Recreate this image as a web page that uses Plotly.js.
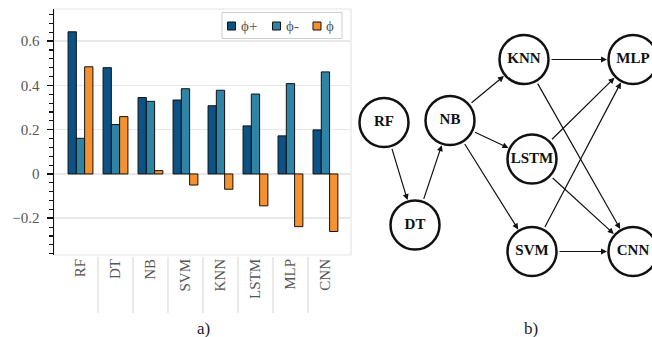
<!DOCTYPE html>
<html><head><meta charset="utf-8">
<script src="https://cdn.plot.ly/plotly-3.0.1.min.js"></script>
<style>html,body{margin:0;padding:0;background:#fff}</style>
</head><body><div id="chart" style="width:652px;height:337px"></div>
<script>
// (a) PROMETHEE flows per classifier
const categories = ['RF','DT','NB','SVM','KNN','LSTM','MLP','CNN'];
const phiPlus  = [0.642,0.480,0.345,0.334,0.308,0.217,0.172,0.199];
const phiMinus = [0.161,0.223,0.328,0.385,0.378,0.361,0.408,0.461];
const phiNet   = [0.484,0.259,0.015,-0.050,-0.069,-0.144,-0.238,-0.260];
const seriesNames = ['ϕ+','ϕ-','ϕ'];
const yTickVals = [-0.2,0,0.2,0.4,0.6];

// (b) ranking graph
const nodeNames = ['RF','DT','NB','KNN','LSTM','SVM','MLP','CNN'];
const nodeX = [384,415,450,524,532,532,633,633];
const nodeY = [122.5,225,120.5,59.5,159,251.5,59.5,251.5];
const edgeFrom = ['RF','DT','NB','NB','NB','KNN','KNN','LSTM','LSTM','SVM','SVM'];
const edgeTo   = ['DT','NB','KNN','LSTM','SVM','MLP','CNN','MLP','CNN','MLP','CNN'];

const colors = ['#0b5286','#2f84a6','#f5912e'];
const serif = '"Liberation Serif", "Times New Roman", serif';
const seriesValues = [phiPlus, phiMinus, phiNet];

const traces = seriesValues.map((vals, i) => ({
  type: 'bar', x: categories, y: vals, name: seriesNames[i],
  marker: {color: colors[i], line: {color: '#111', width: 1}},
  hoverinfo: 'skip', showlegend: false
}));

traces.push({
  type: 'scatter', mode: 'markers+text', xaxis: 'x2', yaxis: 'y2',
  x: nodeX, y: nodeY, text: nodeNames, textposition: 'middle center',
  textfont: {family: serif, size: 15, color: '#111', weight: 'bold'},
  marker: {size: 49, color: '#fff', line: {color: '#111', width: 2.5}},
  showlegend: false, hoverinfo: 'skip', cliponaxis: false
});

const idx = n => nodeNames.indexOf(n);
const annotations = edgeFrom.map((f, k) => ({
  xref: 'x2', yref: 'y2', axref: 'x2', ayref: 'y2',
  x: nodeX[idx(edgeTo[k])], y: nodeY[idx(edgeTo[k])],
  ax: nodeX[idx(f)], ay: nodeY[idx(f)],
  text: '', showarrow: true, arrowhead: 2, arrowsize: 1, arrowwidth: 1.2,
  arrowcolor: '#111', standoff: 26, startstandoff: 26
}));
annotations.push({xref: 'paper', yref: 'paper', x: 203/652, y: 1 - 328/337,
  xanchor: 'center', yanchor: 'middle',
  text: 'a)', showarrow: false, font: {family: serif, size: 17, color: '#222'}});
annotations.push({xref: 'paper', yref: 'paper', x: 531/652, y: 1 - 328/337,
  xanchor: 'center', yanchor: 'middle',
  text: 'b)', showarrow: false, font: {family: serif, size: 17, color: '#222'}});

const shapes = [{
  type: 'rect', xref: 'x domain', yref: 'y domain', x0: 0, x1: 1, y0: 0, y1: 1,
  line: {color: '#e6e6e6', width: 1.2}, layer: 'below'
}];
for (let i = 0; i < categories.length - 1; i++) {
  shapes.push({type: 'line', xref: 'x', yref: 'paper', x0: i + 0.5, x1: i + 0.5,
    y0: 1 - 313/337, y1: 1 - 257/337, line: {color: '#dcdcdc', width: 1.2}});
}

// legend (compact, drawn in paper space)
const px = v => v / 652, py = v => 1 - v / 337;
shapes.push({type: 'rect', xref: 'paper', yref: 'paper',
  x0: px(222), x1: px(342), y0: py(38.5), y1: py(12.5),
  fillcolor: '#fff', line: {color: '#cfcfcf', width: 1}});
const legSwatchX = [231.5, 276.5, 317];
seriesNames.forEach((nm, i) => {
  shapes.push({type: 'rect', xref: 'paper', yref: 'paper',
    x0: px(legSwatchX[i] - 4), x1: px(legSwatchX[i] + 4), y0: py(30), y1: py(22),
    fillcolor: colors[i], line: {color: '#111', width: 1}});
  annotations.push({xref: 'paper', yref: 'paper', x: px(legSwatchX[i] + 7), y: py(26),
    xanchor: 'left', yanchor: 'middle', showarrow: false, text: nm,
    font: {family: serif, size: 15, color: '#555'}});
});

const layout = {
  width: 652, height: 337,
  margin: {l: 0, r: 0, t: 0, b: 0},
  paper_bgcolor: '#fff', plot_bgcolor: '#fff',
  barmode: 'group', bargap: 0.29, bargroupgap: 0,
  font: {family: serif, color: '#555'},
  showlegend: false,
  xaxis: {
    domain: [54/652, 351/652], type: 'category', range: [-0.757, 7.73],
    tickangle: -90, tickfont: {family: serif, size: 15, color: '#555'},
    ticks: '', showgrid: false, showline: false, zeroline: false, fixedrange: true
  },
  yaxis: {
    domain: [82/337, 328/337], range: [-0.366, 0.745],
    tickvals: yTickVals, ticks: 'outside', ticklen: 6, tickwidth: 1.5, tickcolor: '#111',
    tickfont: {family: serif, size: 15, color: '#555'}, ticklabelstandoff: 4,
    showline: true, linecolor: '#111', linewidth: 1.5,
    showgrid: true, gridcolor: '#e8e8e8', gridwidth: 1.5, zeroline: false,
    minor: {dtick: 0.04, tick0: 0, ticks: 'outside', ticklen: 3.5, tickwidth: 1.2, tickcolor: '#111', showgrid: false},
    fixedrange: true
  },
  xaxis2: {domain: [355/652, 1], range: [355, 652], visible: false, anchor: 'y2', fixedrange: true},
  yaxis2: {domain: [0, 1], range: [337, 0], visible: false, anchor: 'x2', fixedrange: true},
  shapes: shapes,
  annotations: annotations
};

Plotly.newPlot('chart', traces, layout, {displayModeBar: false, staticPlot: true});
</script>
</body></html>
